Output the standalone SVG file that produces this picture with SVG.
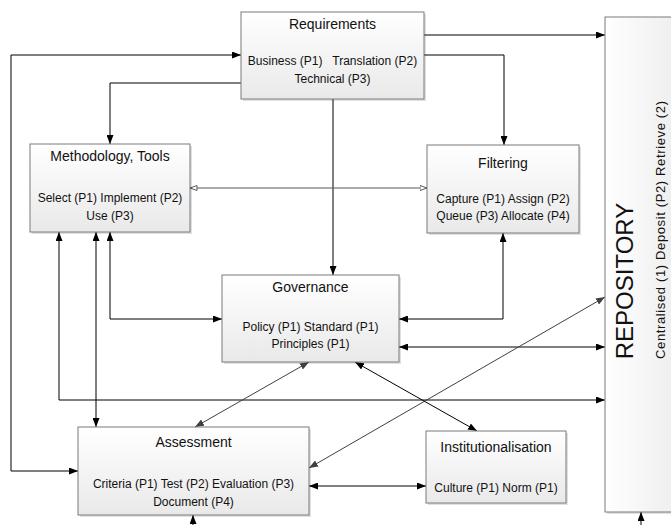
<svg xmlns="http://www.w3.org/2000/svg" width="671" height="525" viewBox="0 0 671 525">
<defs>
<linearGradient id="g" x1="0" y1="0" x2="0" y2="1">
<stop offset="0" stop-color="#ffffff"/>
<stop offset="1" stop-color="#e9e9e9"/>
</linearGradient>
<linearGradient id="gr" x1="0" y1="0" x2="1" y2="0">
<stop offset="0" stop-color="#ffffff"/>
<stop offset="1" stop-color="#ececec"/>
</linearGradient>
<marker id="a" viewBox="0 0 9 7" refX="9" refY="3.5" markerWidth="9" markerHeight="7" markerUnits="userSpaceOnUse" orient="auto-start-reverse">
<path d="M0,0 L9,3.5 L0,7 z" fill="#000"/>
</marker>
<marker id="ag" viewBox="0 0 9 7" refX="9" refY="3.5" markerWidth="9" markerHeight="7" markerUnits="userSpaceOnUse" orient="auto-start-reverse">
<path d="M0,0 L9,3.5 L0,7 z" fill="#404040"/>
</marker>
<marker id="ao" viewBox="0 0 8 6" refX="7.5" refY="3" markerWidth="8" markerHeight="6" markerUnits="userSpaceOnUse" orient="auto-start-reverse">
<path d="M0.5,0.5 L7.5,3 L0.5,5.5 z" fill="#fff" stroke="#595959" stroke-width="1"/>
</marker>
</defs>
<style>
.box{fill:url(#g);stroke:#7a7a7a;stroke-width:1}
.sh{fill:#000;opacity:0.12}
.t{font-family:"Liberation Sans",Arial,sans-serif;font-size:14px;fill:#111;text-anchor:middle}
.s{font-family:"Liberation Sans",Arial,sans-serif;font-size:12px;fill:#111;text-anchor:middle}
.c{fill:none;stroke:#000;stroke-width:1}
.cg{fill:none;stroke:#404040;stroke-width:1}
</style>

<g id="connectors">
<path class="c" d="M424,35 H605" marker-end="url(#a)"/>
<path class="c" d="M424,55 H504 V145" marker-end="url(#a)"/>
<path class="c" d="M241,83 H110 V144" marker-end="url(#a)"/>
<path class="c" d="M241,55 H11 V471 H78" marker-start="url(#a)" marker-end="url(#a)"/>
<path class="c" d="M333,99 V275" marker-end="url(#a)"/>
<path d="M190,188 H427" fill="none" stroke="#595959" stroke-width="1" marker-start="url(#ao)" marker-end="url(#ao)"/>
<path class="c" d="M110,232 V319 H222" marker-start="url(#a)" marker-end="url(#a)"/>
<path class="c" d="M96,232 V427" marker-start="url(#a)" marker-end="url(#a)"/>
<path class="c" d="M59,232 V400 H605" marker-start="url(#a)" marker-end="url(#a)"/>
<path class="c" d="M503,233 V319 H399" marker-start="url(#a)" marker-end="url(#a)"/>
<path class="c" d="M399,347 H605" marker-start="url(#a)" marker-end="url(#a)"/>
<path class="cg" d="M309,468 L605,297" marker-start="url(#ag)" marker-end="url(#ag)"/>
<path class="cg" d="M309,362 L195,427" marker-start="url(#ag)" marker-end="url(#ag)"/>
<path class="c" d="M355,362 L477,431" marker-start="url(#a)" marker-end="url(#a)"/>
<path class="c" d="M309,486 H426" marker-start="url(#a)" marker-end="url(#a)"/>
<path class="c" d="M193,525 V515" marker-end="url(#a)"/>
<path class="c" d="M641,525 V512" marker-end="url(#a)"/>
</g>

<g id="repository">
<rect class="sh" x="607" y="19" width="80" height="495"/>
<rect x="605" y="17" width="80" height="495" fill="url(#gr)" stroke="#7a7a7a"/>
<text transform="translate(633,281) rotate(-90)" font-family="'Liberation Sans',Arial,sans-serif" font-size="24" fill="#111" text-anchor="middle">REPOSITORY</text>
<text transform="translate(665,230) rotate(-90)" font-family="'Liberation Sans',Arial,sans-serif" font-size="13" fill="#111" text-anchor="middle" textLength="258" lengthAdjust="spacing">Centralised (1) Deposit (P2) Retrieve (2)</text>
</g>

<g id="requirements">
<rect class="sh" x="243" y="14" width="183" height="87"/>
<rect class="box" x="241" y="12" width="183" height="87"/>
<text class="t" x="332.5" y="29">Requirements</text>
<text class="s" x="332.5" y="65" xml:space="preserve">Business (P1)   Translation (P2)</text>
<text class="s" x="332.5" y="83">Technical (P3)</text>
</g>

<g id="methodology">
<rect class="sh" x="32" y="146" width="160" height="88"/>
<rect class="box" x="30" y="144" width="160" height="88"/>
<text class="t" x="110" y="161">Methodology, Tools</text>
<text class="s" x="110" y="202">Select (P1) Implement (P2)</text>
<text class="s" x="110" y="220">Use (P3)</text>
</g>

<g id="filtering">
<rect class="sh" x="429" y="147" width="152" height="88"/>
<rect class="box" x="427" y="145" width="152" height="88"/>
<text class="t" x="503" y="168">Filtering</text>
<text class="s" x="503" y="203">Capture (P1) Assign (P2)</text>
<text class="s" x="503" y="220">Queue (P3) Allocate (P4)</text>
</g>

<g id="governance">
<rect class="sh" x="224" y="277" width="177" height="87"/>
<rect class="box" x="222" y="275" width="177" height="87"/>
<text class="t" x="310.5" y="292">Governance</text>
<text class="s" x="310.5" y="331">Policy (P1) Standard (P1)</text>
<text class="s" x="310.5" y="348">Principles (P1)</text>
</g>

<g id="assessment">
<rect class="sh" x="80" y="429" width="231" height="88"/>
<rect class="box" x="78" y="427" width="231" height="88"/>
<text class="t" x="193.5" y="447">Assessment</text>
<text class="s" x="193.5" y="488">Criteria (P1) Test (P2) Evaluation (P3)</text>
<text class="s" x="193.5" y="506">Document (P4)</text>
</g>

<g id="institutionalisation">
<rect class="sh" x="428" y="433" width="140" height="72"/>
<rect class="box" x="426" y="431" width="140" height="72"/>
<text class="t" x="496" y="452">Institutionalisation</text>
<text class="s" x="496" y="492">Culture (P1) Norm (P1)</text>
</g>
</svg>
